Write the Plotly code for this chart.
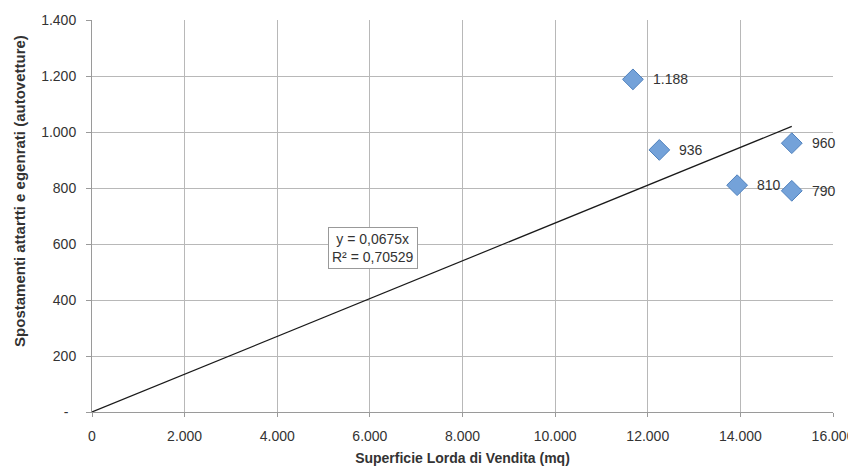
import plotly.graph_objects as go

# Data
superficie = [11680, 12250, 15110, 13930, 15110]
spostamenti = [1188, 936, 960, 810, 790]
labels = ["1.188", "936", "960", "810", "790"]
slope = 0.0675
r2_text = "R² = 0,70529"
eq_text = "y = 0,0675x"
x_ticks = [0, 2000, 4000, 6000, 8000, 10000, 12000, 14000, 16000]
y_ticks = [0, 200, 400, 600, 800, 1000, 1200, 1400]
y_ticktext = ["-\u00a0\u00a0", "200", "400", "600", "800", "1.000", "1.200", "1.400"]
x_title = "Superficie Lorda di Vendita (mq)"
y_title = "Spostamenti attartti e egenrati (autovetture)"

font_family = "Liberation Sans, Arial, sans-serif"

fig = go.Figure()

trend_x = [0, max(superficie)]
trend_y = [slope * v for v in trend_x]
fig.add_trace(go.Scatter(x=trend_x, y=trend_y, mode="lines",
                         line=dict(color="#1a1a1a", width=1.2),
                         hoverinfo="skip", showlegend=False))

fig.add_trace(go.Scatter(x=superficie, y=spostamenti, mode="markers",
                         marker=dict(symbol="diamond", size=16, color="#74a2d9",
                                     line=dict(color="#4f81bd", width=1)),
                         showlegend=False))

for xv, yv, t in zip(superficie, spostamenti, labels):
    fig.add_annotation(x=xv, y=yv, text=t, showarrow=False, xanchor="left",
                       xshift=18, font=dict(size=14, color="#333333", family=font_family))

fig.add_annotation(x=6060, y=584, text=eq_text + "<br>" + r2_text, showarrow=False,
                   bordercolor="#999999", borderwidth=1, bgcolor="white", borderpad=3,
                   font=dict(size=14, color="#333333", family=font_family), align="center")

# y-axis title (placed as annotation, slightly above plot centre like the reference)
fig.add_annotation(xref="paper", yref="paper", x=0, y=0.564, xshift=-72,
                   text="<b>" + y_title + "</b>", textangle=-90, showarrow=False,
                   xanchor="center", yanchor="middle",
                   font=dict(size=15, color="#333333", family=font_family))

# page body has an 8px margin; figure sized so the visible frame matches 856x468
fig.update_layout(
    width=848, height=460,
    margin=dict(l=84, r=23, t=12, b=56),
    paper_bgcolor="white", plot_bgcolor="white",
    separators=",.",
    font=dict(family=font_family, size=14, color="#333333"),
    showlegend=False,
)
fig.update_xaxes(range=[0, 16000], tickvals=x_ticks, tickformat=",d",
                 showgrid=True, gridcolor="#b8b8b8", gridwidth=1,
                 showline=True, linecolor="#9a9a9a", ticks="outside", ticklen=4,
                 tickcolor="#9a9a9a", zeroline=False, automargin=False,
                 ticklabelstandoff=7,
                 title=dict(text="<b>" + x_title + "</b>", font=dict(size=14), standoff=10))
fig.update_yaxes(range=[0, 1400], tickvals=y_ticks, ticktext=y_ticktext,
                 showgrid=True, gridcolor="#b8b8b8", gridwidth=1,
                 showline=True, linecolor="#9a9a9a", ticks="outside", ticklen=5,
                 tickcolor="#9a9a9a", zeroline=False, automargin=False,
                 ticklabelstandoff=7)

fig.write_html("out.html")
